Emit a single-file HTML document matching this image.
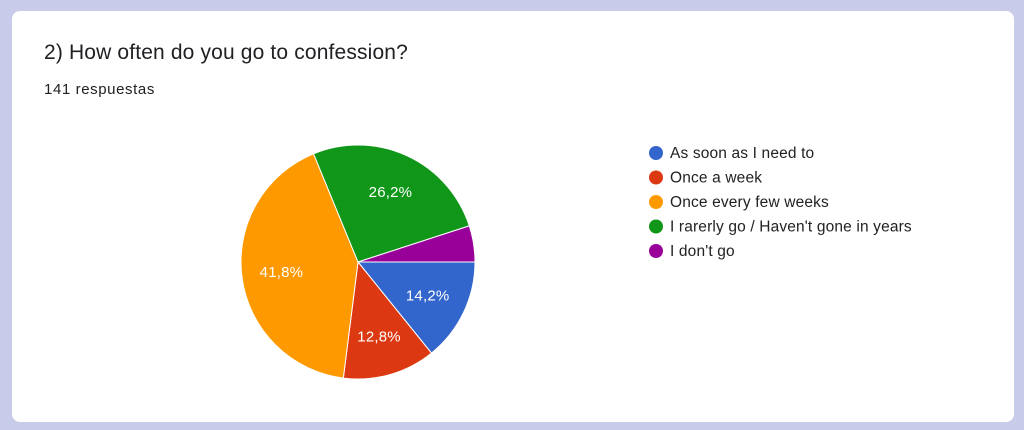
<!DOCTYPE html>
<html><head><meta charset="utf-8"><style>
body{margin:0;width:1024px;height:430px;background:#c9cbea;font-family:"Liberation Sans",sans-serif;overflow:hidden}
.card{position:absolute;left:12px;top:11px;width:1002px;height:411px;background:#fff;border-radius:8px}
.title{position:absolute;left:32px;top:30px;font-size:21px;letter-spacing:0.15px;color:#202124}
.sub{position:absolute;left:32px;top:70px;font-size:15px;letter-spacing:0.6px;color:#202124}
svg{position:absolute;left:0;top:0}
</style></head><body>
<div class="card">
<div class="title">2) How often do you go to confession?</div>
<div class="sub">141 respuestas</div>
</div>
<svg id="chart" width="1024" height="430"></svg>
<script>
const categories=["As soon as I need to","Once a week","Once every few weeks","I rarerly go / Haven't gone in years","I don't go"];
const values=[14.2,12.8,41.8,26.2,5.0];
const labels=["14,2%","12,8%","41,8%","26,2%",""];
const colors=["#3366cc","#dc3912","#ff9900","#109618","#990099"];
const svg=document.getElementById('chart');
const NS="http://www.w3.org/2000/svg";
const cx=358,cy=262,r=117;
const total=values.reduce((a,b)=>a+b,0);
let a0=0;
values.forEach((v,i)=>{
  const a1=a0+v/total*2*Math.PI;
  const x0=cx+r*Math.cos(a0),y0=cy+r*Math.sin(a0),x1=cx+r*Math.cos(a1),y1=cy+r*Math.sin(a1);
  const p=document.createElementNS(NS,'path');
  p.setAttribute('d',`M${cx},${cy}L${x0},${y0}A${r},${r} 0 ${a1-a0>Math.PI?1:0} 1 ${x1},${y1}Z`);
  p.setAttribute('fill',colors[i]);p.setAttribute('stroke','#fff');p.setAttribute('stroke-width','1');
  
  
  svg.appendChild(p);
  if(labels[i]){
    const m=(a0+a1)/2,lr=r*0.66;
    const t=document.createElementNS(NS,'text');
    t.setAttribute('x',cx+lr*Math.cos(m));t.setAttribute('y',cy+lr*Math.sin(m)+5);
    t.setAttribute('text-anchor','middle');t.setAttribute('fill','#fff');t.setAttribute('font-size','15');
    t.setAttribute('letter-spacing','0.2');
    t.setAttribute('font-family','Liberation Sans, sans-serif');
    t.textContent=labels[i];
    
    
    svg.appendChild(t);
  }
  a0=a1;
});
categories.forEach((c,i)=>{
  const y=153+i*24.5;
  const g=document.createElementNS(NS,'g');
  
  
  const ci=document.createElementNS(NS,'circle');
  ci.setAttribute('cx',656);ci.setAttribute('cy',y);ci.setAttribute('r',7);ci.setAttribute('fill',colors[i]);
  g.appendChild(ci);
  const t=document.createElementNS(NS,'text');
  t.setAttribute('x',670);t.setAttribute('y',y+5);t.setAttribute('font-size','15.5');t.setAttribute('fill','#222');
  t.setAttribute('letter-spacing','0.15');
  t.setAttribute('font-family','Liberation Sans, sans-serif');
  t.textContent=c;g.appendChild(t);
  svg.appendChild(g);
});
</script>
</body></html>
